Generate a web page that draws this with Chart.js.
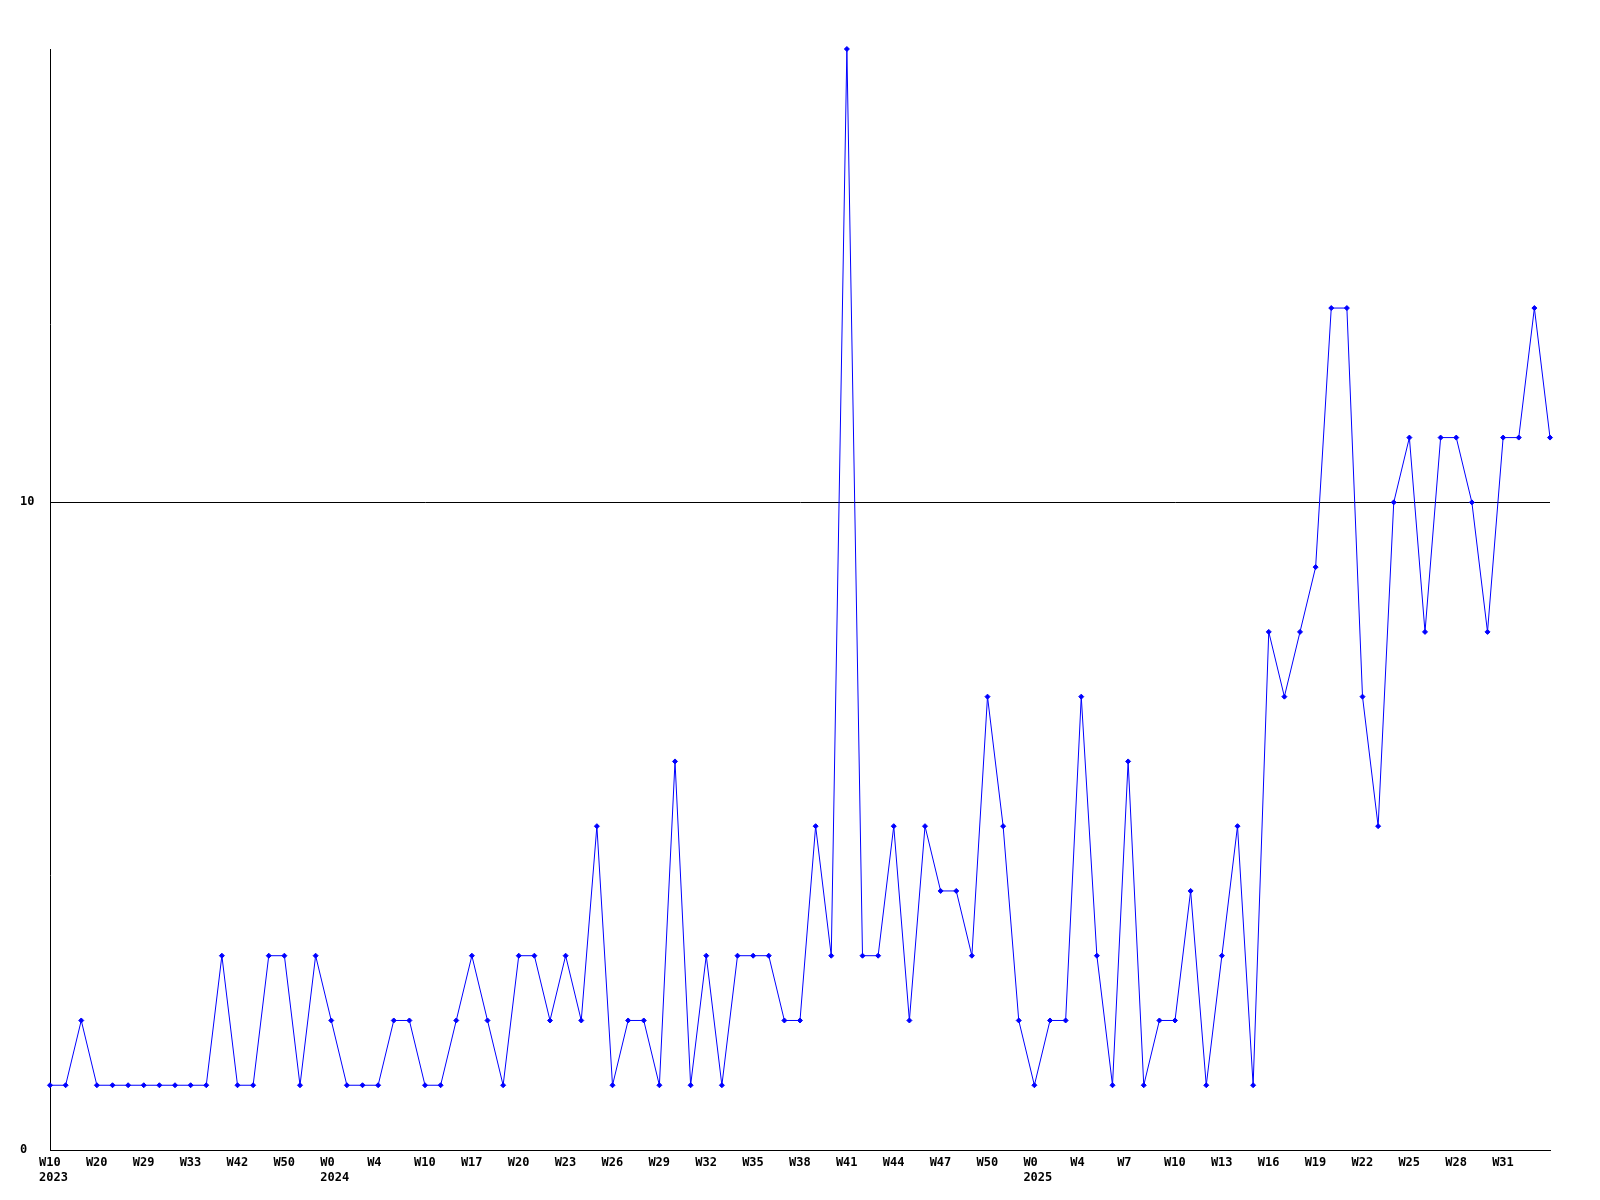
<!DOCTYPE html>
<html>
<head>
<meta charset="utf-8">
<script src="https://cdn.jsdelivr.net/npm/chart.js@4/dist/chart.umd.min.js"></script>
<style>
  html, body { margin: 0; padding: 0; background: #fff; }
  #wrap { width: 1600px; height: 1200px; }
</style>
</head>
<body>
<div id="wrap"><canvas id="weekly"></canvas></div>
<script>
// weekly counts, one per week
const counts = [
  1, 1, 2, 1, 1, 1, 1, 1, 1, 1, 1, 3, 1, 1, 3, 3, 1, 3, 2, 1,
  1, 1, 2, 2, 1, 1, 2, 3, 2, 1, 3, 3, 2, 3, 2, 5, 1, 2, 2, 1,
  6, 1, 3, 1, 3, 3, 3, 2, 2, 5, 3, 17, 3, 3, 5, 2, 5, 4, 4, 3,
  7, 5, 2, 1, 2, 2, 7, 3, 1, 6, 1, 2, 2, 4, 1, 3, 5, 1, 8, 7,
  8, 9, 13, 13, 7, 5, 10, 11, 8, 11, 11, 10, 8, 11, 11, 13, 11
];

// tick labels, shown on every third week
const weekLabels = [
  "W10", "W20", "W29", "W33", "W42", "W50",
  "W0", "W4", "W10", "W17", "W20", "W23", "W26", "W29", "W32", "W35", "W38", "W41", "W44", "W47", "W50",
  "W0", "W4", "W7", "W10", "W13", "W16", "W19", "W22", "W25", "W28", "W31"
];
const yearLabels = { 0: "2023", 6: "2024", 21: "2025" };
const yTicks = [0, 10];

const labels = counts.map((_, i) => {
  if (i % 3 !== 0) return "";
  const k = i / 3;
  if (k >= weekLabels.length) return "";
  return yearLabels[k] ? [weekLabels[k], yearLabels[k]] : weekLabels[k];
});

const monoFont = { family: "'DejaVu Sans Mono', monospace", size: 12, weight: "bold", lineHeight: 1.2 };

new Chart(document.getElementById("weekly"), {
  type: "line",
  data: {
    labels: labels,
    datasets: [
      {
        data: counts,
        borderColor: "#0000ff",
        borderWidth: 1,
        backgroundColor: "#0000ff",
        pointStyle: "rectRot",
        pointRadius: 2.5,
        pointBorderWidth: 1,
        pointBorderColor: "#0000ff",
        tension: 0,
        clip: false,
      },
    ],
  },
  options: {
    responsive: true,
    maintainAspectRatio: false,
    animation: false,
    layout: { padding: { left: 20, right: 50, top: 49, bottom: 0 } },
    plugins: { legend: { display: false }, tooltip: { enabled: false } },
    scales: {
      x: {
        offset: false,
        grid: { display: false, drawTicks: false },
        border: { display: true, color: "#000", width: 1 },
        ticks: {
          autoSkip: false,
          maxRotation: 0,
          align: "start",
          labelOffset: -11,
          padding: 6,
          color: "#000",
          font: monoFont,
        },
        afterFit: (scale) => { scale.height = 50; },
      },
      y: {
        min: 0,
        max: 17,
        afterBuildTicks: (scale) => { scale.ticks = yTicks.map((v) => ({ value: v })); },
        grid: { color: "#000", drawTicks: false, lineWidth: 1 },
        border: { display: true, color: "#000", width: 1 },
        ticks: {
          crossAlign: "far",
          padding: 4,
          color: "#000",
          font: monoFont,
        },
        afterFit: (scale) => { scale.width = 30; },
      },
    },
  },
});
</script>
</body>
</html>
